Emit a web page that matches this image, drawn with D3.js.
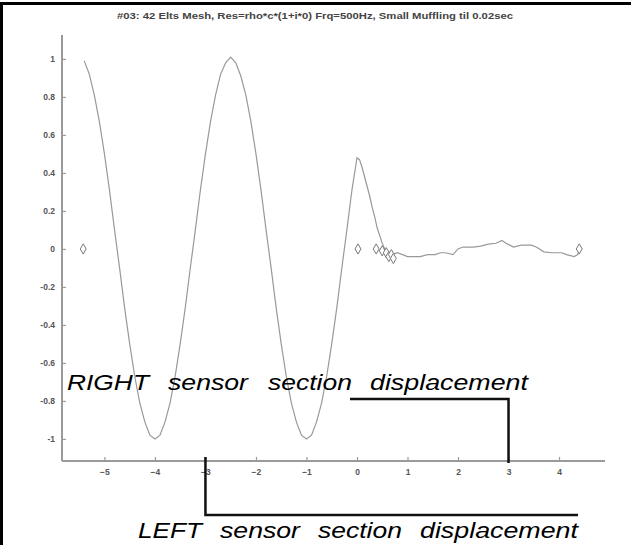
<!DOCTYPE html>
<html>
<head>
<meta charset="utf-8">
<script src="https://cdn.jsdelivr.net/npm/d3@7"></script>
<style>
  html, body { margin: 0; padding: 0; background: #fff; }
  svg { display: block; }
  .tick text { font-family: "Liberation Sans", Arial, sans-serif; }
</style>
</head>
<body>
<svg id="chart" width="631" height="545"></svg>
<script>
// Displacement along the mesh, sampled positions and values
const posX = [
  -5.4, -5.3, -5.2, -5.1, -5.0, -4.9, -4.8, -4.7, -4.6, -4.5, -4.4, -4.3, -4.2, -4.1, -4.0,
  -3.9, -3.8, -3.7, -3.6, -3.5, -3.4, -3.3, -3.2, -3.1, -3.0, -2.9, -2.8, -2.7, -2.6, -2.5,
  -2.4, -2.3, -2.2, -2.1, -2.0, -1.9, -1.8, -1.7, -1.6, -1.5, -1.4, -1.3, -1.2, -1.1, -1.0,
  -0.9, -0.8, -0.7, -0.6, -0.5, -0.4, -0.3, -0.2, -0.1, 0.0,
  0.05, 0.1, 0.15, 0.2, 0.25, 0.3, 0.35, 0.4, 0.45, 0.5, 0.55, 0.6, 0.7, 0.8, 0.9,
  1.0, 1.1, 1.25, 1.4, 1.55, 1.65, 1.75, 1.9, 2.0, 2.1, 2.3, 2.45, 2.6, 2.75, 2.87,
  2.95, 3.1, 3.25, 3.45, 3.55, 3.7, 3.85, 4.05, 4.15, 4.3, 4.37, 4.4
];
const dispY = [
  0.99, 0.92, 0.81, 0.67, 0.50, 0.31, 0.10, -0.10, -0.31, -0.50, -0.67, -0.81, -0.91, -0.98, -1.00,
  -0.98, -0.91, -0.81, -0.67, -0.50, -0.31, -0.10, 0.10, 0.31, 0.50, 0.67, 0.81, 0.92, 0.98, 1.01,
  0.98, 0.91, 0.81, 0.67, 0.50, 0.31, 0.10, -0.10, -0.31, -0.50, -0.67, -0.81, -0.91, -0.98, -1.00,
  -0.98, -0.91, -0.81, -0.67, -0.50, -0.31, -0.10, 0.10, 0.31, 0.48,
  0.47, 0.43, 0.38, 0.33, 0.28, 0.22, 0.17, 0.11, 0.07, 0.03, 0.00, -0.02, -0.03, -0.02, -0.03,
  -0.04, -0.04, -0.04, -0.03, -0.03, -0.02, -0.02, -0.03, 0.00, 0.01, 0.01, 0.015, 0.025, 0.03, 0.045,
  0.03, 0.01, 0.02, 0.02, 0.01, -0.015, -0.02, -0.02, -0.03, -0.04, -0.03, -0.005
];

// Sensor node markers
const nodeX = [-5.42, 0.02, 0.38, 0.50, 0.58, 0.63, 0.68, 0.72, 4.40];
const nodeY = [0.00, 0.00, 0.00, -0.01, -0.02, -0.04, -0.03, -0.05, 0.00];

// Axis ticks
const xTicks = [-5, -4, -3, -2, -1, 0, 1, 2, 3, 4];
const yTicks = [1, 0.8, 0.6, 0.4, 0.2, 0, -0.2, -0.4, -0.6, -0.8, -1];

// Axis limits
const xLimits = [-5.84, 4.91];
const yLimits = [-1.116, 1.126];

// Bracket anchors (x position on the axis)
const rightSensorX = 3;
const leftSensorX = -3;

const titleText = "#03: 42 Elts Mesh, Res=rho*c*(1+i*0) Frq=500Hz, Small Muffling til 0.02sec";
const rightLabel = ["RIGHT", "sensor", "section", "displacement"];
const leftLabel = ["LEFT", "sensor", "section", "displacement"];

const svg = d3.select("#chart");
const plot = { left: 62, right: 605, top: 35, bottom: 461 };

const x = d3.scaleLinear().domain(xLimits).range([plot.left, plot.right]);
const y = d3.scaleLinear().domain(yLimits).range([plot.bottom, plot.top]);

svg.append("rect").attr("width", 631).attr("height", 545).attr("fill", "#fff");

// frame edges
svg.append("rect").attr("x", 0).attr("y", 2).attr("width", 631).attr("height", 3).attr("fill", "#000");
svg.append("rect").attr("x", 0).attr("y", 2).attr("width", 3).attr("height", 543).attr("fill", "#000");

// title
svg.append("text")
  .attr("x", 315).attr("y", 19)
  .attr("text-anchor", "middle")
  .attr("font-family", "Liberation Sans, Arial, sans-serif")
  .attr("font-size", 9)
  .attr("font-weight", "bold")
  .attr("fill", "#444")
  .attr("textLength", 396)
  .attr("lengthAdjust", "spacingAndGlyphs")
  .text(titleText);

// axes
const axisColor = "#9a9a9a";
const gx = svg.append("g")
  .attr("transform", `translate(0,${plot.bottom})`)
  .call(d3.axisBottom(x).tickValues(xTicks).tickSize(-4).tickPadding(8).tickFormat(d3.format("d")));
const gy = svg.append("g")
  .attr("transform", `translate(${plot.left},0)`)
  .call(d3.axisLeft(y).tickValues(yTicks).tickSize(-4).tickPadding(7).tickFormat(d => d === 0 ? "0" : String(d)));

[gx, gy].forEach(g => {
  g.select(".domain").attr("stroke", axisColor).attr("stroke-width", 2);
  g.selectAll(".tick line").attr("stroke", axisColor).attr("stroke-width", 1.2);
  g.selectAll(".tick text").attr("fill", "#555").attr("font-size", 8.5).attr("font-weight", "bold");
});
gx.select(".domain").attr("d", `M${plot.left},0H${plot.right}`);
gy.select(".domain").attr("d", `M0,${plot.top}V${plot.bottom}`);

// displacement curve
const pts = posX.map((v, i) => [v, dispY[i]]);
svg.append("path")
  .datum(pts)
  .attr("fill", "none")
  .attr("stroke", "#999")
  .attr("stroke-width", 1.2)
  .attr("d", d3.line().x(d => x(d[0])).y(d => y(d[1])));

// node markers (diamonds)
const diamond = d3.symbol().type(d3.symbolDiamond).size(30);
svg.selectAll(".node")
  .data(nodeX.map((v, i) => [v, nodeY[i]]))
  .join("path")
  .attr("class", "node")
  .attr("transform", d => `translate(${x(d[0])},${y(d[1])})`)
  .attr("d", diamond)
  .attr("fill", "#fff")
  .attr("stroke", "#777")
  .attr("stroke-width", 1);

// word-by-word label with fixed word extents
function wideLabel(words, starts, widths, baseline) {
  const g = svg.append("g")
    .attr("font-family", "Liberation Sans, Arial, sans-serif")
    .attr("font-style", "italic")
    .attr("font-size", 22)
    .attr("fill", "#000");
  words.forEach((w, i) => {
    g.append("text")
      .attr("x", starts[i]).attr("y", baseline)
      .attr("textLength", widths[i])
      .attr("lengthAdjust", "spacingAndGlyphs")
      .text(w);
  });
}

// RIGHT bracket
const rx = x(rightSensorX);
svg.append("path")
  .attr("d", `M350,399H${rx}V${plot.bottom + 2}`)
  .attr("fill", "none").attr("stroke", "#111").attr("stroke-width", 2.5);
wideLabel(rightLabel, [67, 168, 268, 370], [82, 80, 84, 158], 390);

// LEFT bracket
const lx = x(leftSensorX);
svg.append("path")
  .attr("d", `M${lx},${plot.bottom - 4}V515H578`)
  .attr("fill", "none").attr("stroke", "#111").attr("stroke-width", 2.5);
wideLabel(leftLabel, [138, 220, 318, 420], [64, 80, 84, 158], 538);
</script>
</body>
</html>
